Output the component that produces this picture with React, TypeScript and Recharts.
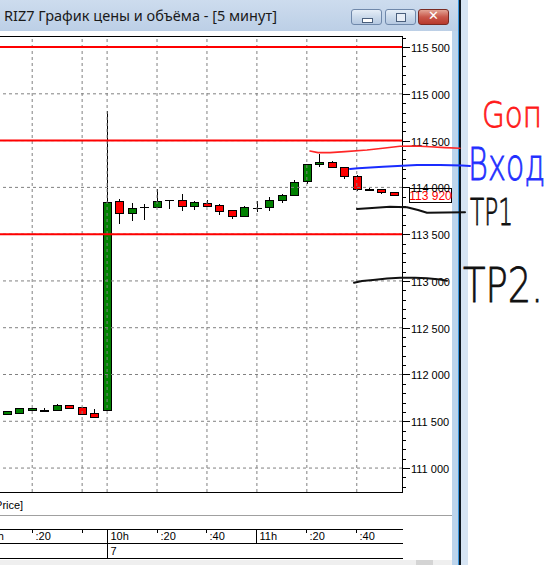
import React from "react";
import { Bar, ComposedChart, ReferenceLine, XAxis, YAxis } from "recharts";

// RIZ7, 5-minute candles: end of the evening session, then the morning of the 7th
const candleTimes = [
  "23:10", "23:15", "23:20", "23:25", "23:30", "23:35", "23:40", "23:45",
  "10:00", "10:05", "10:10", "10:15", "10:20", "10:25", "10:30", "10:35",
  "10:40", "10:45", "10:50", "10:55", "11:00", "11:05", "11:10", "11:15",
  "11:20", "11:25", "11:30", "11:35", "11:40", "11:45", "11:50", "11:55",
];
const candleSlots = [
  -8, -7, -6, -5, -4, -3, -2, -1, 0, 1, 2, 3, 4, 5, 6, 7,
  8, 9, 10, 11, 12, 13, 14, 15, 16, 17, 18, 19, 20, 21, 22, 23,
];
const opens = [
  111580, 111590, 111625, 111615, 111620, 111670, 111650, 111590,
  111620, 113850, 113725, 113790, 113785, 113865, 113860, 113800,
  113830, 113810, 113755, 113690, 113780, 113785, 113870, 113915,
  114065, 114250, 114270, 114215, 114120, 113985, 113980, 113955,
];
const highs = [
  111610, 111640, 111640, 111645, 111685, 111670, 111650, 111630,
  114815, 113880, 113830, 113820, 113980, 113865, 113930, 113855,
  113870, 113820, 113755, 113800, 113855, 113895, 113930, 114075,
  114250, 114355, 114280, 114215, 114135, 113990, 113980, 113955,
];
const lows = [
  111580, 111590, 111625, 111615, 111620, 111640, 111575, 111545,
  111620, 113605, 113645, 113650, 113785, 113770, 113750, 113760,
  113800, 113710, 113665, 113690, 113735, 113750, 113830, 113915,
  114035, 114220, 114215, 114085, 113965, 113960, 113925, 113915,
];
const closes = [
  111610, 111640, 111640, 111625, 111675, 111640, 111575, 111545,
  113840, 113725, 113775, 113790, 113850, 113865, 113800, 113845,
  113800, 113745, 113695, 113785, 113780, 113870, 113915, 114055,
  114250, 114270, 114215, 114120, 113985, 113975, 113950, 113920,
];

const levelPrices = [115500, 114500, 113500];
const gridPrices = [111000, 111500, 112000, 112500, 113000, 113500, 114000, 114500, 115000, 115500];
const gridSlots = [-10, -6, -2, 0, 4, 8, 12, 16, 20];
const timeTickSlots = [-10, -6, -2, 0, 4, 8, 12, 16, 20];
const timeTickLabels = ["23h", ":20", "", "10h", ":20", ":40", "11h", ":20", ":40"];
const dateSlots = [0];
const dateLabels = ["7"];
const lastPrice = 113920;

const priceTicks: number[] = [];
for (let p = 110800; p <= 115600; p += 100) priceTicks.push(p);

const candles = candleSlots.map((slot, i) => ({
  slot,
  time: candleTimes[i],
  open: opens[i],
  high: highs[i],
  low: lows[i],
  close: closes[i],
}));

// hand-drawn marker ink on top of the screenshot
const stopInk = [[310, 151], [318, 152.6], [330, 152.6], [345, 151.6], [367, 150], [385, 148], [400, 146.3], [415, 146], [430, 146.8], [445, 147.6], [460, 148.3]];
const entryInk = [[350, 169], [358, 168.3], [383, 166.7], [417, 165], [440, 165], [462, 165.5], [470, 166]];
const tp1Ink = [[357, 209], [372, 208], [390, 206.7], [407, 207.3], [418, 210], [427, 212.7], [445, 212.6], [465, 212.3]];
const tp2Ink = [[354, 282.7], [362, 281], [373, 280], [387, 278.5], [400, 277.7], [415, 277.7], [427, 278.3], [440, 279.5], [447, 280.7]];

const axisFont = "'Liberation Sans', Arial, sans-serif";

const fmt = (v: number) => String(v).replace(/(\d{3})$/, " $1");

function Candle(props: any) {
  const { x, y, width, height, payload } = props;
  const { open, close, high, low } = payload;
  const k = high > low ? height / (high - low) : 0;
  const py = (v: number) => y + (high - v) * k;
  const cx = Math.floor(x + width / 2) + 0.5;
  const top = Math.round(py(Math.max(open, close))) + 0.5;
  const bot = Math.round(py(Math.min(open, close))) + 0.5;
  const fill = close > open ? "#008000" : "#ff0000";
  return (
    <g>
      <line x1={cx} x2={cx} y1={Math.round(y)} y2={Math.round(y + height)} stroke="#000" />
      {open === close ? (
        <line x1={cx - 4.5} x2={cx + 4.5} y1={top} y2={top} stroke="#000" />
      ) : (
        <rect x={cx - 4} y={top} width={8} height={Math.max(bot - top, 1)} fill={fill} stroke="#000" />
      )}
    </g>
  );
}

function PriceTick(props: any) {
  const { x, y, payload } = props;
  const major = payload.value % 500 === 0;
  const ty = Math.round(y) + 0.5;
  return (
    <g>
      <line x1={x} x2={x + (major ? 8 : 4)} y1={ty} y2={ty} stroke="#000" />
      {major && (
        <text x={x + 9} y={ty + 4} fontSize={11} fontFamily={axisFont} fill="#000">
          {fmt(payload.value)}
        </text>
      )}
    </g>
  );
}

function TimeTick(props: any) {
  const { x, y, payload } = props;
  const i = timeTickSlots.indexOf(payload.value);
  const label = timeTickLabels[i];
  const lx = Math.floor(x) + 0.5;
  const hour = label.endsWith("h");
  const d = dateSlots.indexOf(payload.value);
  return (
    <g fontFamily={axisFont} fontSize={11}>
      <line x1={lx} x2={lx} y1={y + 37} y2={hour ? (d >= 0 ? y + 66 : y + 51) : y + 41} stroke="#000" />
      <text x={lx + 3} y={y + 48}>{label}</text>
      {d >= 0 && <text x={lx + 3} y={y + 63}>{dateLabels[d]}</text>}
    </g>
  );
}

function PriceTag(props: any) {
  const { viewBox } = props;
  const right = viewBox.x + viewBox.width;
  const ty = Math.round(viewBox.y) + 0.5;
  return (
    <g>
      <rect x={right + 7.5} y={ty - 7} width={42} height={14} fill="#fff" stroke="#000" />
      <text x={right + 28.5} y={ty + 4.5} textAnchor="middle" fontSize={12} fontFamily={axisFont} fill="#ff0000">
        {fmt(lastPrice)}
      </text>
    </g>
  );
}

const inkPath = (pts: number[][]) => pts.map((p, i) => `${i ? "L" : "M"}${p[0]},${p[1]}`).join(" ");

function Button({ left, red, children }: { left: number; red?: boolean; children?: React.ReactNode }) {
  return (
    <div
      style={{
        position: "absolute",
        left,
        top: 9,
        width: 31,
        height: 16,
        boxSizing: "border-box",
        borderRadius: 3,
        border: red ? "1px solid #7a2a22" : "1px solid #6f88aa",
        background: red
          ? "linear-gradient(#e3a495, #c9574a 50%, #b8392c)"
          : "linear-gradient(#e6eef7, #cbdaeb 50%, #b6c9e1)",
      }}
    >
      {children}
    </div>
  );
}

export default function App() {
  return (
    <div style={{ position: "fixed", left: 0, top: 0, width: 545, height: 565, overflow: "hidden", background: "#fff" }}>
      {/* title bar */}
      <div style={{ position: "absolute", left: 0, top: 0, width: 458, height: 31, background: "linear-gradient(#cddcee, #bccfe6)" }} />
      <div style={{ position: "absolute", left: 4, top: 5, fontFamily: "'Noto Sans', sans-serif", fontSize: 14.5, color: "#1a1a1a", whiteSpace: "nowrap" }}>
        RIZ7 График цены и объёма - [5 минут]
      </div>
      <Button left={351}>
        <div style={{ position: "absolute", left: 10, top: 8, width: 9, height: 3, background: "#fff", border: "1px solid #4a5f7c" }} />
      </Button>
      <Button left={385}>
        <div style={{ position: "absolute", left: 10, top: 3, width: 8, height: 7, border: "1px solid #4a5f7c", background: "#e8eef6" }} />
      </Button>
      <Button left={418} red>
        <div style={{ position: "absolute", left: 0, top: -2, width: 29, textAlign: "center", color: "#fff", fontFamily: "'DejaVu Sans', sans-serif", fontWeight: 700, fontSize: 13 }}>✕</div>
      </Button>

      {/* right window frame */}
      <div style={{ position: "absolute", left: 452, top: 31, width: 6, height: 534, background: "#bcd4ec" }} />
      <div style={{ position: "absolute", left: 458, top: 0, width: 1, height: 565, background: "#3a96dd" }} />
      <div style={{ position: "absolute", left: 459, top: 0, width: 2, height: 565, background: "#101820" }} />
      <div style={{ position: "absolute", left: 461, top: 0, width: 7, height: 565, background: "#d6e4f3" }} />

      {/* plot frame */}
      <div style={{ position: "absolute", left: -5, top: 36, width: 408, height: 457, boxSizing: "border-box", border: "1px solid #000" }} />

      <div style={{ position: "absolute", left: -40, top: 31 }}>
        <ComposedChart width={492} height={529} data={candles} margin={{ top: 5, right: 0, bottom: 0, left: 0 }}>
          <XAxis
            dataKey="slot"
            type="number"
            domain={[-11.783, 23.623]}
            allowDataOverflow
            ticks={timeTickSlots}
            interval={0}
            tick={<TimeTick />}
            tickLine={false}
            axisLine={false}
            tickSize={0}
            tickMargin={0}
            height={68}
          />
          <YAxis
            orientation="right"
            type="number"
            domain={[110744, 115618]}
            allowDataOverflow
            ticks={priceTicks}
            interval={0}
            tick={<PriceTick />}
            tickLine={false}
            axisLine={false}
            tickSize={0}
            tickMargin={0}
            width={50}
          />
          {gridPrices.map((p) => (
            <ReferenceLine key={"h" + p} y={p} stroke="#808080" strokeDasharray="3 3" />
          ))}
          {gridSlots.map((s) => (
            <ReferenceLine key={"v" + s} x={s} stroke="#808080" strokeDasharray="3 3" />
          ))}
          {levelPrices.map((p) => (
            <ReferenceLine key={"r" + p} y={p} stroke="#ff0000" strokeWidth={2} />
          ))}
          <Bar
            dataKey={(d: any) => [d.low, d.high]}
            barSize={9}
            shape={<Candle />}
            isAnimationActive={false}
          />
          <ReferenceLine y={lastPrice} stroke="none" label={<PriceTag />} />
        </ComposedChart>
      </div>

      {/* legend line and time panel */}
      <div style={{ position: "absolute", left: -8, top: 499, fontFamily: axisFont, fontSize: 11, lineHeight: "13px" }}>[Price]</div>
      <div style={{ position: "absolute", left: 0, top: 515, width: 452, height: 1, background: "#a0a0a0" }} />
      {[529, 543, 558].map((t) => (
        <div key={t} style={{ position: "absolute", left: 0, top: t, width: 403, height: 1, background: "#000" }} />
      ))}
      <div style={{ position: "absolute", left: 0, top: 560, width: 452, height: 5, background: "#efefef" }} />
      <div style={{ position: "absolute", left: 416, top: 560, width: 17, height: 5, background: "#d4d4d4" }} />

      {/* hand-drawn notes */}
      <svg width={545} height={565} style={{ position: "absolute", left: 0, top: 0 }}>
        <g fill="none" strokeLinecap="round" strokeLinejoin="round">
          <path d={inkPath(stopInk)} stroke="#ff2626" strokeWidth={1.6} />
          <path d={inkPath(entryInk)} stroke="#1a2cff" strokeWidth={2} />
          <path d={inkPath(tp1Ink)} stroke="#111" strokeWidth={2} />
          <path d={inkPath(tp2Ink)} stroke="#111" strokeWidth={2} />
        </g>
        <g fontFamily="'DejaVu Sans', sans-serif" fontWeight={200} strokeWidth={0.8}>
          <text x={482} y={127} fontSize={36} fill="#ff1a1a" stroke="#ff1a1a" textLength={60} lengthAdjust="spacingAndGlyphs">Gоп</text>
          <text x={468} y={180} fontSize={44} fill="#1f2fff" stroke="#1f2fff" textLength={77} lengthAdjust="spacingAndGlyphs">Вход</text>
          <text x={470} y={225} fontSize={38} fill="#111" stroke="#111" textLength={43} lengthAdjust="spacingAndGlyphs">TP1</text>
          <text x={463} y={302} fontSize={48} fill="#111" stroke="#111" textLength={80} lengthAdjust="spacingAndGlyphs">TP2.</text>
        </g>
      </svg>
    </div>
  );
}
